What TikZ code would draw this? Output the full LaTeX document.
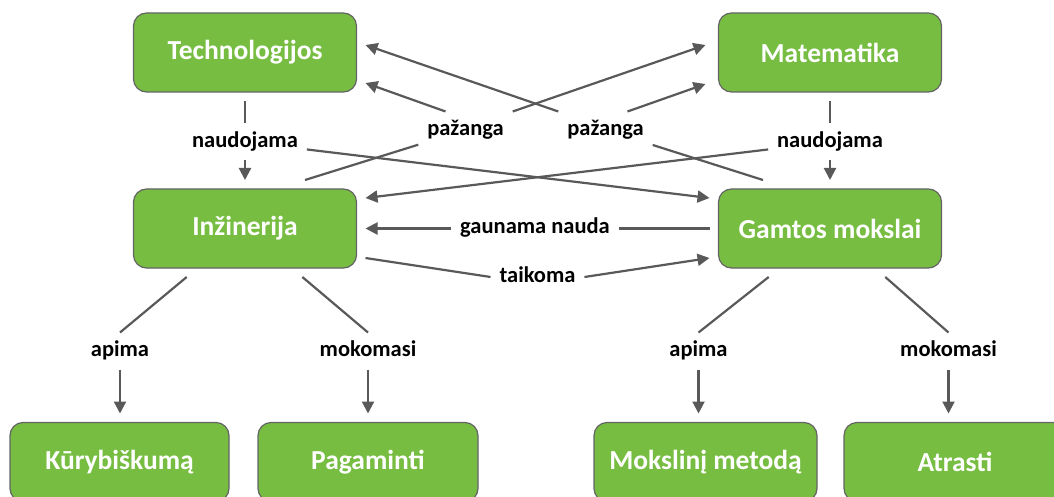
\documentclass[tikz,border=0pt]{standalone}
\usepackage{fontspec}
\setmainfont{Carlito}
\usetikzlibrary{arrows.meta}
\definecolor{boxgreen}{RGB}{118,189,66}
\definecolor{boxedge}{RGB}{100,100,100}
\definecolor{linegray}{RGB}{89,89,89}
\begin{document}
\begin{tikzpicture}[x=1pt,y=-1pt,
  box/.style={draw=boxedge, line width=1.2pt, fill=boxgreen, rounded corners=13pt,
    minimum width=223pt, minimum height=79pt, inner sep=0pt, outer sep=9pt,
    text=white, font=\fontsize{27.5}{33}\selectfont\bfseries},
  lbl/.style={font=\fontsize{22.5}{27}\selectfont\bfseries, inner xsep=6pt, inner ysep=2pt,
    outer sep=3pt, execute at begin node=\strut},
  conn/.style={draw=linegray, line width=2.2pt},
  arr/.style={conn, -{Triangle[length=12pt,width=12pt]}}]
\useasboundingbox (0,0) rectangle (1054,497);
\clip (0,0) rectangle (1054,497);
% boxes
\node[box] (tech) at (245,52.5) {Technologijos};
\node[box] (mat) at (830,52.5) {Matematika};
\node[box] (inz) at (245,228.5) {Inžinerija};
\node[box] (gam) at (830,228.5) {Gamtos mokslai};
\node[box, minimum width=219pt] (kur) at (119.5,462) {Kūrybiškumą};
\node[box, minimum width=220pt] (pag) at (368,462) {Pagaminti};
\node[box] (mok) at (705.5,462) {Mokslinį metodą};
\node[box, minimum width=222pt] (atr) at (955,462) {Atrasti};
% labels
\node[lbl] (naudL) at (245,142) {naudojama};
\node[lbl] (naudR) at (830,142) {naudojama};
\node[lbl] (pazL) at (465.5,130) {pažanga};
\node[lbl] (pazR) at (605.5,130) {pažanga};
\node[lbl] (gaun) at (535,228.5) {gaunama nauda};
\node[lbl] (taik) at (537.5,277) {taikoma};
\node[lbl] (apL) at (120,351) {apima};
\node[lbl] (mokL) at (368,351) {mokomasi};
\node[lbl] (apR) at (698.5,351) {apima};
\node[lbl] (mokR) at (948.5,351) {mokomasi};
% connectors
\draw[conn] (tech.south) -- (naudL.north);
\draw[arr] (naudL.south) -- (inz.north);
\draw[arr] (naudL) -- ([yshift=30.5pt]gam.west);
\draw[conn] (mat.south) -- (naudR.north);
\draw[arr] (naudR.south) -- (gam.north);
\draw[arr] (naudR) -- ([yshift=30.5pt]inz.east);
\draw[conn] ([xshift=60pt]inz.north) -- (pazL);
\draw[arr] ([xshift=-20pt]pazL.north) -- ([yshift=-30.5pt]tech.east);
\draw[arr] (pazL.north east) -- ([yshift=7.5pt,xshift=-4pt]mat.west);
\draw[conn] ([xshift=-67pt]gam.north) -- (pazR);
\draw[arr] (pazR.north west) -- ([yshift=7.5pt]tech.east);
\draw[arr] ([xshift=22pt]pazR.north) -- ([yshift=-31.5pt,xshift=-4pt]mat.west);
\draw[conn] (gam.west) -- (gaun.east);
\draw[arr] (gaun.west) -- (inz.east);
\draw[conn] ([yshift=-29.5pt]inz.east) -- (taik.west);
\draw[arr] (taik.east) -- ([yshift=-29.5pt]gam.west);
\draw[conn] (inz) -- (apL.north);
\draw[arr] (apL.south) -- (apL.south |- kur.north);
\draw[conn] (inz) -- (mokL.north);
\draw[arr] (mokL.south) -- (mokL.south |- pag.north);
\draw[conn] (gam) -- (apR.north);
\draw[arr] (apR.south) -- (apR.south |- mok.north);
\draw[conn] (gam) -- (mokR.north);
\draw[arr] (mokR.south) -- (mokR.south |- atr.north);
\end{tikzpicture}
\end{document}
